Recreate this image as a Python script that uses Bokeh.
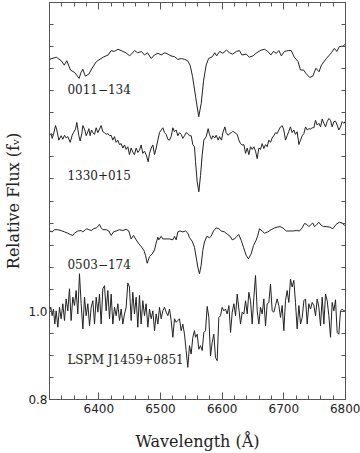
from bokeh.plotting import figure
from bokeh.models import LinearAxis, FixedTicker, Label, Range1d, CustomJSTickFormatter, PrintfTickFormatter
from bokeh.embed import file_html
from bokeh.resources import INLINE

# ---------------- data (wavelength in Angstrom, relative flux) ----------------
names = ["0011\u2212134", "1330+015", "0503\u2212174", "LSPM J1459+0851"]
label_x = [6349, 6349, 6349, 6349]
label_y = [1.505, 1.309, 1.107, 0.889]

w1 = [6320, 6331, 6339, 6344, 6348, 6354, 6361, 6368, 6371, 6374, 6378, 6384, 6389, 6396, 6407,
      6415, 6420, 6425, 6431, 6436, 6444, 6450, 6458, 6463, 6469, 6474, 6479, 6485, 6490, 6496,
      6501, 6507, 6512, 6517, 6523, 6528, 6534, 6539, 6544, 6548, 6552, 6557, 6562, 6566, 6570,
      6574, 6578, 6584, 6588, 6591, 6596, 6601, 6607, 6612, 6617, 6623, 6628, 6632, 6639, 6644,
      6650, 6655, 6663, 6669, 6674, 6679, 6683, 6688, 6692, 6696, 6701, 6707, 6712, 6717, 6723,
      6727, 6732, 6736, 6742, 6747, 6752, 6757, 6761, 6769, 6777, 6782, 6786, 6790, 6796, 6800]
f1 = [1.571, 1.576, 1.568, 1.558, 1.568, 1.547, 1.541, 1.528, 1.541, 1.549,
      1.533, 1.538, 1.551, 1.566, 1.576, 1.581, 1.591, 1.589, 1.594, 1.591,
      1.586, 1.579, 1.591, 1.586, 1.589, 1.581, 1.586, 1.573, 1.581, 1.585,
      1.581, 1.586, 1.583, 1.579, 1.577, 1.571, 1.573, 1.571, 1.568, 1.558,
      1.532, 1.486, 1.441, 1.471, 1.524, 1.558, 1.573, 1.577, 1.586, 1.579,
      1.589, 1.585, 1.592, 1.586, 1.583, 1.589, 1.591, 1.581, 1.583, 1.576,
      1.579, 1.585, 1.592, 1.594, 1.589, 1.581, 1.589, 1.585, 1.591, 1.579,
      1.589, 1.591, 1.591, 1.576, 1.566, 1.547, 1.547, 1.539, 1.530, 1.533,
      1.551, 1.543, 1.558, 1.573, 1.586, 1.596, 1.589, 1.600, 1.601, 1.606]

w2 = [6320.0, 6322.7, 6324.3, 6326.5, 6329.7, 6331.9, 6335.1, 6338.9, 6341.6, 6344.3,
      6347.0, 6349.7, 6353.5, 6356.8, 6358.9, 6362.2, 6364.3, 6367.6, 6369.7, 6372.4,
      6374.1, 6377.3, 6379.5, 6382.2, 6383.8, 6385.9, 6388.1, 6390.3, 6393.0, 6395.7,
      6398.4, 6401.1, 6403.8, 6406.5, 6409.2, 6411.9, 6414.6, 6417.3, 6420.0, 6422.7,
      6425.4, 6428.1, 6430.8, 6433.5, 6436.2, 6438.9, 6441.6, 6444.3, 6447.0, 6449.7,
      6452.4, 6455.1, 6457.8, 6460.5, 6463.2, 6465.9, 6468.6, 6471.3, 6474.0, 6476.7,
      6480.0, 6482.2, 6484.9, 6487.6, 6490.3, 6493.0, 6495.7, 6498.4, 6501.1, 6503.8,
      6506.5, 6509.2, 6511.9, 6514.6, 6517.3, 6520.0, 6522.7, 6525.4, 6528.1, 6530.8,
      6533.5, 6536.2, 6538.9, 6541.6, 6544.3, 6547.0, 6549.7, 6552.4, 6555.1,
      6556.8, 6559.5, 6562.2, 6564.9, 6567.6, 6570.3, 6574.1, 6577.3, 6579.5, 6582.7,
      6584.9, 6588.1, 6590.3, 6593.6, 6595.7, 6599.0, 6601.1, 6604.4, 6606.5, 6609.8,
      6611.9, 6615.2, 6617.3, 6620.6, 6624.4,
      6627.1, 6629.8, 6632.5, 6635.2, 6637.9, 6640.6, 6643.3, 6646.0, 6648.7, 6651.4,
      6654.1, 6656.8, 6659.5, 6662.2, 6664.9, 6667.6, 6670.3, 6673.0, 6675.7, 6678.4,
      6681.1, 6683.8, 6686.5, 6689.2, 6691.9, 6694.6, 6697.3, 6700.0, 6702.7, 6705.4,
      6708.1, 6710.8, 6713.5, 6716.2, 6718.9, 6721.6, 6724.4, 6727.1, 6729.8, 6732.5,
      6735.2, 6737.9, 6740.6, 6743.3, 6746.0, 6748.7, 6751.4, 6754.1, 6756.8, 6759.5,
      6762.2, 6764.9, 6767.6, 6770.3, 6773.0, 6775.7, 6778.4, 6781.1, 6783.8, 6786.5,
      6789.2, 6791.9, 6794.6, 6797.3, 6800.0]
f2 = [1.398, 1.403, 1.392, 1.401, 1.421, 1.411, 1.388, 1.398, 1.390, 1.399,
      1.393, 1.396, 1.383, 1.399, 1.405, 1.413, 1.428, 1.398, 1.386, 1.403,
      1.421, 1.411, 1.398, 1.407, 1.414, 1.398, 1.411, 1.405, 1.401, 1.416,
      1.405, 1.413, 1.421, 1.407, 1.405, 1.401, 1.403, 1.398, 1.399, 1.388,
      1.396, 1.383, 1.388, 1.378, 1.380, 1.370, 1.377, 1.367, 1.373, 1.355,
      1.370, 1.361, 1.355, 1.370, 1.360, 1.365, 1.377, 1.358, 1.363, 1.355,
      1.339, 1.358, 1.370, 1.377, 1.355, 1.370, 1.388, 1.405, 1.411, 1.416,
      1.405, 1.401, 1.390, 1.388, 1.396, 1.416, 1.407, 1.411, 1.398, 1.405,
      1.401, 1.392, 1.398, 1.405, 1.403, 1.398, 1.398, 1.378, 1.373,
      1.339, 1.293, 1.271, 1.308, 1.354, 1.388, 1.396, 1.414, 1.401, 1.390,
      1.398, 1.393, 1.399, 1.388, 1.396, 1.388, 1.405, 1.418, 1.405, 1.399,
      1.403, 1.405, 1.408, 1.405, 1.401,
      1.388, 1.380, 1.377, 1.378, 1.358, 1.370, 1.355, 1.373, 1.367, 1.373,
      1.363, 1.346, 1.370, 1.367, 1.380, 1.369, 1.378, 1.373, 1.388, 1.383,
      1.393, 1.398, 1.405, 1.403, 1.411, 1.418, 1.421, 1.411, 1.388, 1.398,
      1.408, 1.418, 1.405, 1.411, 1.401, 1.407, 1.378, 1.388, 1.398, 1.403,
      1.418, 1.411, 1.414, 1.413, 1.416, 1.416, 1.433, 1.422, 1.426, 1.418,
      1.436, 1.426, 1.418, 1.430, 1.437, 1.433, 1.418, 1.430, 1.431, 1.422,
      1.411, 1.418, 1.430, 1.426, 1.431]

w3 = [6320.0, 6324.3, 6328.1, 6333.5, 6338.9, 6344.3, 6349.7, 6353.5, 6357.8, 6360.5,
      6365.9, 6371.3, 6374.1, 6378.4, 6380.5, 6383.8, 6387.6, 6391.3, 6395.7, 6398.4,
      6401.1, 6403.8, 6406.5, 6411.9, 6416.2, 6420.0, 6423.8, 6428.1, 6433.5, 6438.9,
      6444.3, 6448.6, 6452.4, 6456.2, 6460.5, 6464.9, 6468.6, 6473.0, 6475.7, 6478.4,
      6482.2, 6486.5, 6490.3, 6493.0, 6495.7, 6497.3, 6501.1, 6503.8, 6509.2, 6514.6,
      6520.0, 6522.7, 6525.4, 6528.1, 6531.9, 6536.2, 6540.5, 6544.3, 6547.0, 6551.3,
      6555.1, 6557.8, 6560.5, 6563.2, 6565.9, 6568.6, 6571.3, 6575.1, 6579.4, 6582.1,
      6585.9, 6590.3, 6594.6, 6598.4, 6603.8, 6609.2, 6613.0, 6616.2, 6620.0, 6623.8,
      6627.0, 6630.8, 6634.6, 6638.9, 6642.7, 6647.0, 6650.8, 6655.1, 6657.8, 6660.5,
      6664.8, 6668.6, 6674.0, 6679.4, 6684.8, 6690.2, 6694.0, 6698.4, 6703.8, 6709.2,
      6714.6, 6720.0, 6725.4, 6729.7, 6733.5, 6737.3, 6740.5, 6744.3, 6747.0, 6749.7,
      6752.4, 6756.7, 6760.5, 6764.3, 6768.6, 6774.0, 6779.4, 6784.8, 6790.2, 6794.6,
      6798.3, 6800.0]
f3 = [1.182, 1.180, 1.185, 1.185, 1.183, 1.180, 1.177, 1.174, 1.172, 1.177,
      1.182, 1.183, 1.180, 1.185, 1.187, 1.185, 1.183, 1.187, 1.189, 1.192,
      1.197, 1.189, 1.185, 1.185, 1.182, 1.172, 1.180, 1.182, 1.185, 1.183,
      1.186, 1.182, 1.164, 1.172, 1.162, 1.153, 1.147, 1.138, 1.127, 1.109,
      1.124, 1.130, 1.139, 1.155, 1.168, 1.162, 1.170, 1.164, 1.164, 1.164,
      1.162, 1.170, 1.162, 1.180, 1.182, 1.180, 1.182, 1.177, 1.167, 1.159,
      1.145, 1.123, 1.100, 1.085, 1.104, 1.138, 1.157, 1.170, 1.167, 1.170,
      1.182, 1.189, 1.187, 1.182, 1.180, 1.174, 1.170, 1.162, 1.164, 1.170,
      1.174, 1.161, 1.145, 1.127, 1.119, 1.130, 1.149, 1.161, 1.172, 1.187,
      1.182, 1.177, 1.180, 1.185, 1.189, 1.191, 1.192, 1.189, 1.182, 1.182,
      1.182, 1.183, 1.182, 1.189, 1.199, 1.197, 1.192, 1.197, 1.200, 1.192,
      1.195, 1.202, 1.195, 1.192, 1.192, 1.191, 1.187, 1.197, 1.202, 1.200,
      1.195, 1.197]

w4 = [6320.0, 6322.2, 6324.3, 6326.5, 6328.6, 6330.8,
      6333.5, 6336.2, 6338.9, 6341.6, 6344.3, 6347.0, 6349.7, 6352.4, 6355.1, 6357.8,
      6360.5, 6363.2, 6365.9, 6368.6, 6371.3, 6374.1, 6376.8, 6379.5, 6382.2, 6384.9,
      6387.6, 6390.3, 6393.0, 6395.7, 6398.4, 6401.1, 6403.8, 6406.5, 6409.2, 6411.9,
      6414.6, 6417.3, 6420.0, 6422.7, 6425.4, 6428.1, 6430.8, 6433.5, 6436.2, 6438.9,
      6441.6, 6444.3, 6447.0, 6449.7, 6452.4, 6455.1, 6457.8, 6460.5, 6463.2, 6465.9,
      6468.6, 6471.3, 6474.0, 6476.7, 6479.5, 6482.2, 6484.9, 6487.6, 6490.3, 6493.0,
      6495.7, 6498.4, 6501.1, 6503.8, 6506.5, 6509.2, 6511.9, 6514.6, 6517.3, 6520.0,
      6522.7, 6525.4, 6528.1, 6530.8, 6533.5, 6536.2, 6538.9, 6541.6, 6544.3, 6547.0,
      6549.7, 6552.4, 6555.1,
      6556.8, 6559.5, 6562.2, 6564.9, 6567.6, 6570.3, 6573.0, 6575.7, 6578.4, 6581.1,
      6583.8, 6586.5, 6589.2, 6591.9, 6594.6, 6597.3, 6600.0, 6602.7, 6605.4, 6608.1,
      6610.9, 6613.6, 6616.3, 6619.0, 6621.7, 6624.4,
      6627.1, 6629.8, 6632.5, 6635.2, 6637.9, 6640.6, 6643.3, 6646.0, 6648.7, 6651.4,
      6654.1, 6656.8, 6659.5, 6662.2, 6664.9, 6667.6, 6670.3, 6673.0, 6675.7, 6678.4,
      6681.1, 6683.8, 6686.5, 6689.2, 6691.9, 6694.6, 6697.3, 6700.0, 6702.7, 6705.4,
      6708.1, 6710.8, 6713.5, 6716.2, 6718.9, 6721.6, 6724.4, 6727.1, 6729.8, 6732.5,
      6735.2, 6737.9, 6740.6, 6743.3, 6746.0, 6748.7, 6751.4, 6754.1, 6756.8, 6759.5,
      6762.2, 6764.9, 6767.6, 6770.3, 6773.0, 6775.7, 6778.4, 6781.1, 6783.8, 6786.5,
      6789.2, 6791.9, 6794.6, 6797.3, 6800.0]
f4 = [1.001, 1.009, 0.990, 1.005, 0.971, 1.001, 0.964, 1.009, 0.983, 1.017,
      0.979, 1.028, 1.001, 1.051, 0.979, 1.032, 1.013, 1.047, 0.994, 1.085,
      1.017, 0.960, 1.032, 0.990, 1.017, 0.967, 1.009, 1.024, 0.971, 1.032,
      0.998, 1.039, 0.971, 1.051, 1.058, 1.001, 1.047, 0.983, 1.039, 0.971,
      1.009, 0.990, 1.017, 0.979, 1.005, 0.971, 0.994, 1.009, 1.064, 1.055,
      0.979, 1.043, 0.994, 1.032, 0.964, 1.036, 0.971, 1.024, 0.990, 1.017,
      0.964, 1.005, 0.983, 1.001, 0.956, 0.994, 0.971, 1.009, 0.983, 1.001,
      1.009, 0.998, 0.990, 1.005, 0.979, 0.941, 0.983, 0.975, 0.979, 0.983,
      0.956, 0.971, 0.948, 0.911, 0.873, 0.922, 0.903, 0.941, 0.956,
      0.941, 0.948, 0.914, 0.922, 0.911, 0.952, 0.956, 1.011, 0.986, 0.899,
      0.929, 0.948, 0.895, 0.888, 0.986, 0.990, 1.009, 1.001, 1.005, 0.994,
      1.013, 0.952, 0.998, 1.017, 0.990, 1.039, 1.005, 0.971, 0.998, 0.994,
      1.024, 0.994, 1.043, 1.024, 0.971, 1.032, 1.081, 1.001, 0.971, 1.009,
      0.994, 1.028, 0.967, 1.017, 1.020, 1.062, 1.001, 0.998, 1.013, 1.028,
      1.013, 0.986, 1.013, 0.956, 1.024, 1.047, 1.020, 1.073, 1.055, 1.070,
      1.020, 0.960, 1.013, 0.971, 0.986, 1.024, 1.028, 0.971, 1.017, 1.005,
      1.020, 1.013, 0.990, 1.028, 1.009, 0.967, 1.032, 0.971, 1.039, 1.024,
      0.990, 0.941, 1.020, 1.001, 1.026, 0.952, 0.948, 1.001, 1.005, 1.001, 1.001]

x_major = [6400, 6500, 6600, 6700, 6800]
y_major = [0.8, 1.0]
x_title = "Wavelength (\u00c5)"
y_title = "Relative Flux (f\u1d65)"

# ---------------- figure ----------------
INK = "#222222"
AX = "#555555"

p = figure(width=360, height=453, output_backend="svg", toolbar_location=None,
           x_range=Range1d(6320, 6800), y_range=Range1d(0.8, 1.7),
           min_border_left=49, min_border_right=15, min_border_top=2, min_border_bottom=0)
p.grid.visible = False
p.outline_line_color = AX
p.background_fill_color = "white"

for w, f in [(w1, f1), (w2, f2), (w3, f3), (w4, f4)]:
    p.line(w, f, line_color=INK, line_width=1)

for nm, lx, ly in zip(names, label_x, label_y):
    p.add_layout(Label(x=lx, y=ly, text=nm, text_font="DejaVu Serif", text_font_size="12px",
                       text_color=INK, text_baseline="middle", text_align="left"))

x_minor = list(range(6320, 6801, 20))
y_minor = [round(0.8 + 0.05 * i, 2) for i in range(19)]

def style(ax, size="12px"):
    ax.axis_line_color = AX
    ax.major_tick_line_color = AX
    ax.minor_tick_line_color = AX
    ax.major_tick_out = 0
    ax.minor_tick_out = 0
    ax.major_label_text_font = "DejaVu Sans"
    ax.major_label_text_font_size = size
    ax.major_label_text_color = INK
    ax.axis_label_text_font = "DejaVu Serif"
    ax.axis_label_text_font_size = "16px"
    ax.axis_label_text_font_style = "normal"
    ax.axis_label_text_color = INK

xa = p.xaxis[0]
xa.ticker = FixedTicker(ticks=x_major, minor_ticks=x_minor)
style(xa)
xa.major_tick_in = 7
xa.minor_tick_in = 4
xa.major_label_standoff = 4
xa.axis_label = x_title
xa.axis_label_standoff = 16

ya = p.yaxis[0]
ya.ticker = FixedTicker(ticks=y_major, minor_ticks=y_minor)
ya.formatter = PrintfTickFormatter(format="%.1f")
style(ya)
ya.major_tick_in = 5
ya.minor_tick_in = 4
ya.major_label_standoff = 2
ya.axis_label = y_title
ya.axis_label_standoff = 2

blank = CustomJSTickFormatter(code="return ''")

top = LinearAxis(ticker=FixedTicker(ticks=x_major, minor_ticks=x_minor), formatter=blank)
style(top, "1px")
top.major_tick_in = 7
top.minor_tick_in = 4
top.major_label_standoff = 0
p.add_layout(top, "above")

right = LinearAxis(ticker=FixedTicker(ticks=y_major, minor_ticks=y_minor), formatter=blank)
style(right, "1px")
right.major_tick_in = 5
right.minor_tick_in = 4
right.major_label_standoff = 0
p.add_layout(right, "right")

open("out.html", "w").write(file_html(p, INLINE))
